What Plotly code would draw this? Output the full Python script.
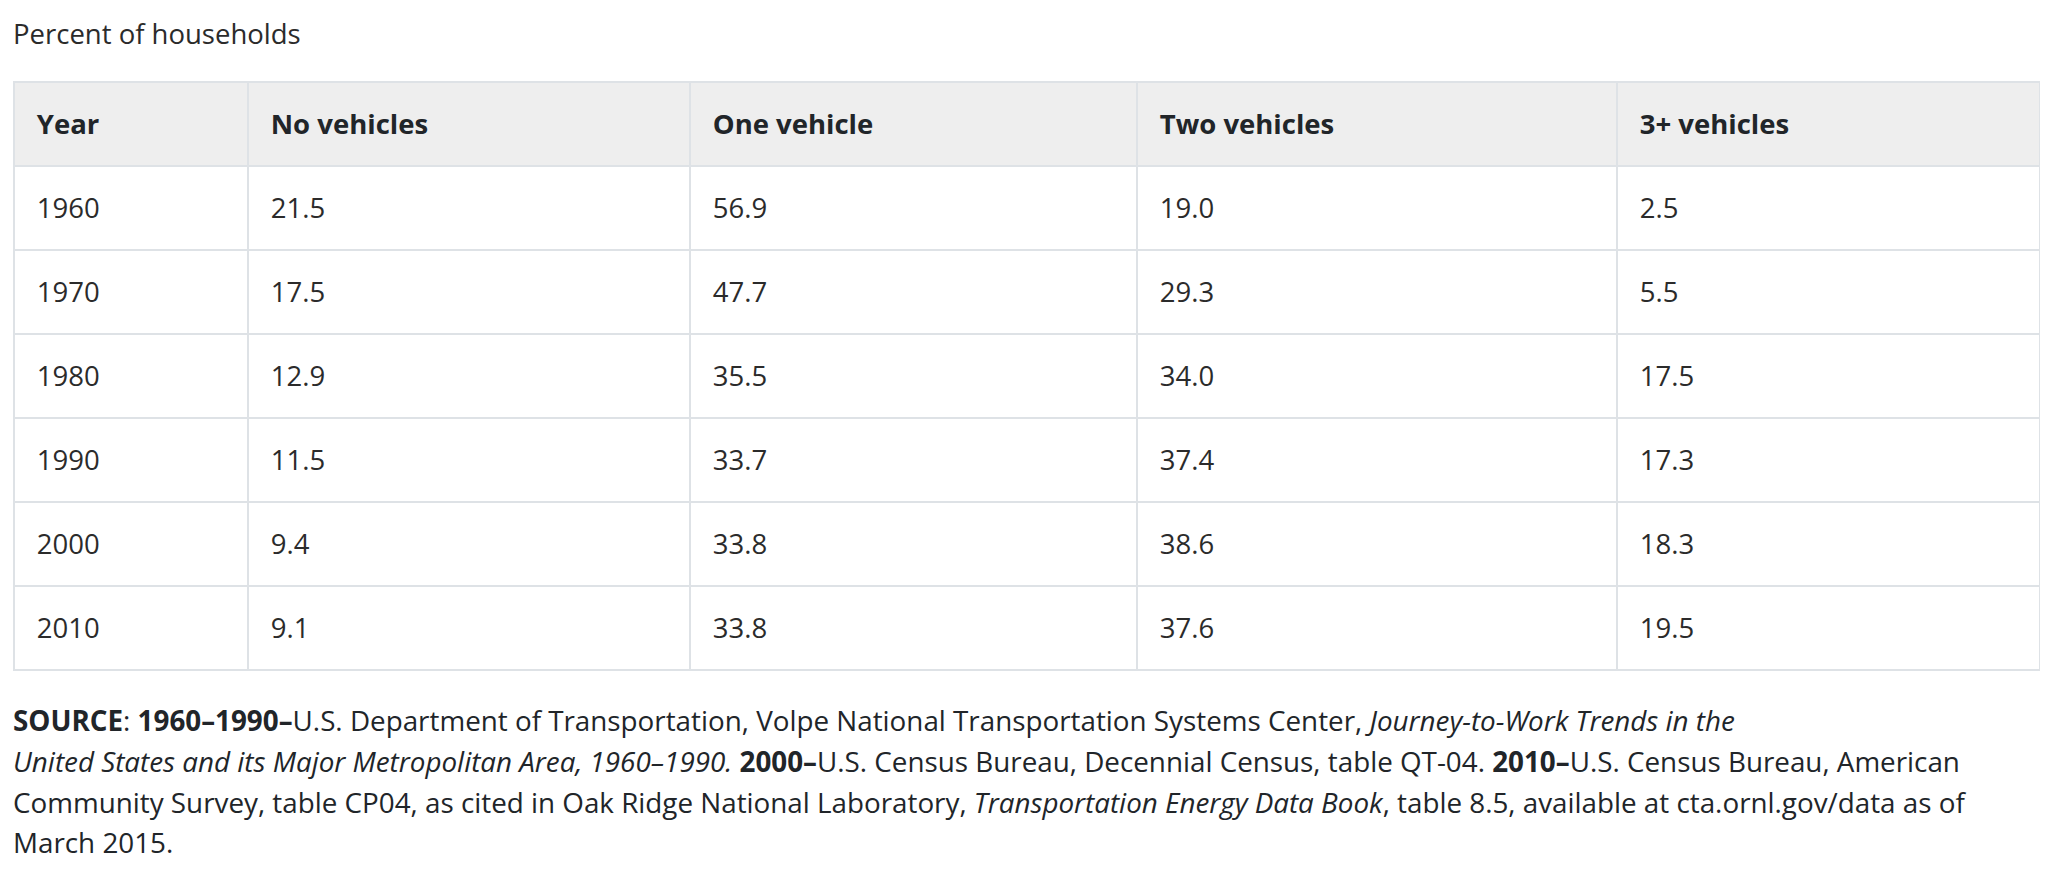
import plotly.graph_objects as go

# page has an 8px body margin, so the figure is a bit smaller than the window
W, H = 2040, 860

# table data (percent of households)
columns = ["Year", "No vehicles", "One vehicle", "Two vehicles", "3+ vehicles"]
years = ["1960", "1970", "1980", "1990", "2000", "2010"]
no_vehicles = [21.5, 17.5, 12.9, 11.5, 9.4, 9.1]
one_vehicle = [56.9, 47.7, 35.5, 33.7, 33.8, 33.8]
two_vehicles = [19.0, 29.3, 34.0, 37.4, 38.6, 37.6]
three_plus = [2.5, 5.5, 17.5, 17.3, 18.3, 19.5]

title = "Percent of households"
source_lines = [
    "<b>SOURCE</b>: <b>1960–1990–</b>U.S. Department of Transportation, Volpe National Transportation Systems Center, <i>Journey-to-Work Trends in the</i>",
    "<i>United States and its Major Metropolitan Area, 1960–1990.</i> <b>2000–</b>U.S. Census Bureau, Decennial Census, table QT-04. <b>2010–</b>U.S. Census Bureau, American",
    "Community Survey, table CP04, as cited in Oak Ridge National Laboratory, <i>Transportation Energy Data Book</i>, table 8.5, available at cta.ornl.gov/data as of",
    "March 2015.",
]

FONT = "Open Sans"
HEAD_TXT = "#212529"
BODY_TXT = "#2b2b2b"
CELL_PX = 27.5
STRUT_PX = 41.4  # a tall blank glyph in front lowers the text to mid-row


def cell(s):
    # <br> stops plotly's word wrapping, the strut nbsp sets height and inset
    strut = f"<span style='font-size:{STRUT_PX}px;letter-spacing:4px'>\u00a0</span>"
    return f"<br>{strut}<span style='font-size:{CELL_PX}px'>{s}</span>"


body = [
    [cell(y) for y in years],
    [cell(f"{v:.1f}") for v in no_vehicles],
    [cell(f"{v:.1f}") for v in one_vehicle],
    [cell(f"{v:.1f}") for v in two_vehicles],
    [cell(f"{v:.1f}") for v in three_plus],
]

fig = go.Figure(go.Table(
    domain=dict(x=[6 / W, 2032 / W], y=[0.12, 1 - 74 / H]),
    columnwidth=[234, 442, 447, 480, 423],
    header=dict(
        values=[cell(c) for c in columns],
        fill_color="#eeeeee",
        line=dict(color="#dee2e6", width=1.5),
        align="left",
        height=84,
        font=dict(family=FONT, size=CELL_PX, color=HEAD_TXT, weight="bold"),
    ),
    cells=dict(
        values=body,
        fill_color="white",
        line=dict(color="#dee2e6", width=1.5),
        align="left",
        height=84,
        font=dict(family=FONT, size=CELL_PX, color=BODY_TXT),
    ),
))

annotations = [dict(
    text=title, x=3 / W, y=1 - 26 / H, xref="paper", yref="paper",
    xanchor="left", yanchor="middle", showarrow=False,
    font=dict(family=FONT, size=27.5, color=BODY_TXT),
)]
line_y = [712, 753, 794, 834]
for txt, yy in zip(source_lines, line_y):
    annotations.append(dict(
        text=txt, x=3 / W, y=1 - yy / H, xref="paper", yref="paper",
        xanchor="left", yanchor="middle", showarrow=False, align="left",
        font=dict(family=FONT, size=27.8, color=HEAD_TXT),
    ))

fig.update_layout(
    width=W, height=H,
    margin=dict(l=0, r=0, t=0, b=0),
    paper_bgcolor="white",
    annotations=annotations,
)

fig.write_html("out.html")
